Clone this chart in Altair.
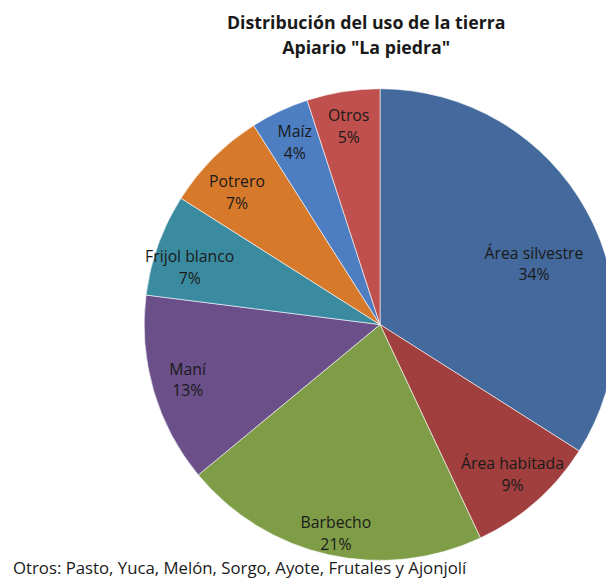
import altair as alt
import pandas as pd

categorias = ["Área silvestre", "Área habitada", "Barbecho", "Maní",
              "Frijol blanco", "Potrero", "Maíz", "Otros"]
porcentajes = [34, 9, 21, 13, 7, 7, 4, 5]
colores = ["#44699C", "#A03F3D", "#7F9D47", "#6A4F89",
           "#3A8BA0", "#D6792B", "#4D7EC1", "#C0504D"]
titulo = ["Distribución del uso de la tierra", 'Apiario "La piedra"']
nota = ["Otros: Pasto, Yuca, Melón, Sorgo, Ayote, Frutales y Ajonjolí"]

df = pd.DataFrame({"categoria": categorias, "pct": porcentajes,
                   "orden": list(range(len(categorias)))})

FONT = "Open Sans"
CX, CY, R = 377, 257, 239

color = alt.Color("categoria:N", scale=alt.Scale(domain=categorias, range=colores), legend=None)

base = alt.Chart(df).encode(
    theta=alt.Theta("pct:Q", stack=True),
    order=alt.Order("orden:Q"),
)

pie = base.mark_arc(stroke="#ffffff", strokeWidth=0.6).encode(
    color=color,
    x=alt.value(CX), y=alt.value(CY), radius=alt.value(R),
)

def label_layer(r, dy, cond):
    return base.transform_calculate(
        etiqueta="datum.categoria + '\\n' + datum.pct + '%'"
    ).mark_text(font=FONT, fontSize=16, lineBreak="\n", lineHeight=22,
                color="#1a1a1a", baseline="middle", dy=dy).encode(
        text="etiqueta:N",
        x=alt.value(CX), y=alt.value(CY),
        radius=alt.value(r),
        opacity=alt.condition(cond, alt.value(1), alt.value(0)),
    )

is_big = "datum.categoria == 'Área silvestre'"
is_low = "indexof(['Barbecho', 'Frijol blanco', 'Potrero'], datum.categoria) >= 0"
is_rest = f"!({is_big}) && !({is_low})"
labels_big = label_layer(178, 14, is_big)
labels_low = label_layer(205, 1, is_low)
labels_rest = label_layer(203, -11, is_rest)

foot = alt.Chart(pd.DataFrame({"t": nota})).mark_text(
    font=FONT, fontSize=17, align="left", baseline="middle", color="#1a1a1a"
).encode(text="t:N", x=alt.value(5), y=alt.value(505))

chart = alt.layer(pie, labels_big, labels_low, labels_rest, foot).properties(
    width=606, height=510,
    autosize="none",
    padding={"left": 0, "top": 60, "right": 0, "bottom": 0},
    title=alt.TitleParams(text=titulo, font=FONT, fontSize=18, fontWeight="bold",
                          color="#1a1a1a", anchor="middle", dx=60, lineHeight=26,
                          offset=13),
).configure_view(stroke=None)

chart.save("out.html", embed_options={"renderer": "svg", "actions": False})
